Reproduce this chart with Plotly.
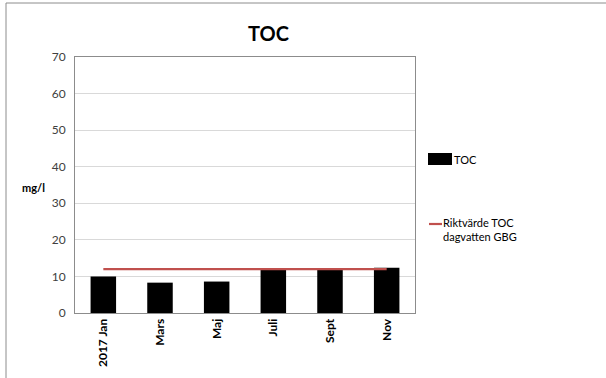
import plotly.graph_objects as go

# Monthly TOC measurements (mg/l) and the guideline value
months = ["2017 Jan", "Mars", "Maj", "Juli", "Sept", "Nov"]
toc_values = [10.0, 8.3, 8.6, 11.8, 11.8, 12.4]
guideline = [12, 12, 12, 12, 12, 12]

y_ticks = [0, 10, 20, 30, 40, 50, 60, 70]

FONT = "Lato, Open Sans, sans-serif"

fig = go.Figure()
fig.add_trace(go.Bar(
    x=months, y=toc_values, name="TOC",
    marker=dict(color="#000000", line=dict(width=0)),
    width=0.45, showlegend=False,
))
fig.add_trace(go.Scatter(
    x=months, y=guideline, name="Riktvärde TOC dagvatten GBG",
    mode="lines", line=dict(color="#c0504d", width=2.2),
    showlegend=False,
))

# plot area geometry in pixels
W, H = 606, 378
L, R, T, B = 75, 191, 57, 65
pw, ph = W - L - R, H - T - B


def px(x):
    return (x - L) / pw


def py(y):
    return (H - B - y) / ph


shapes = [
    # outer chart frame
    dict(type="rect", xref="paper", yref="paper",
         x0=px(6), x1=px(640), y0=py(3), y1=py(420),
         line=dict(color="#8c8c8c", width=1), layer="below"),
    # legend keys
    dict(type="rect", xref="paper", yref="paper",
         x0=px(428), x1=px(452), y0=py(153), y1=py(165),
         fillcolor="#000000", line=dict(width=0)),
    dict(type="line", xref="paper", yref="paper",
         x0=px(429), x1=px(442), y0=py(224), y1=py(224),
         line=dict(color="#c0504d", width=2.2)),
]

annotations = [
    dict(text="<b>TOC</b>", xref="paper", yref="paper",
         x=px(268), y=py(33), xanchor="center", yanchor="middle",
         showarrow=False,
         font=dict(family=FONT, size=20, color="#000000")),
    dict(text="<b>mg/l</b>", xref="paper", yref="paper",
         x=px(33), y=py(187), xanchor="center", yanchor="middle",
         showarrow=False,
         font=dict(family=FONT, size=11, color="#000000")),
    dict(text="TOC", xref="paper", yref="paper",
         x=px(452), y=py(159), xanchor="left", yanchor="middle",
         showarrow=False,
         font=dict(family=FONT, size=11, color="#000000")),
    dict(text="Riktvärde TOC<br>dagvatten GBG", xref="paper", yref="paper",
         x=px(441), y=py(229), xanchor="left", yanchor="middle",
         align="left", showarrow=False,
         font=dict(family=FONT, size=11, color="#000000")),
]

fig.update_layout(
    width=W, height=H,
    margin=dict(l=L, r=R, t=T, b=B),
    paper_bgcolor="#ffffff", plot_bgcolor="#ffffff",
    bargap=0.55,
    shapes=shapes, annotations=annotations,
    font=dict(family=FONT, size=11, color="#404040"),
    xaxis=dict(
        tickangle=-90, showgrid=False, ticks="",
        showline=True, linecolor="#8c8c8c", mirror=True,
        tickfont=dict(family=FONT, size=12, color="#000000"),
        tickprefix="<b>", ticksuffix="</b>",
        range=[-0.5, 5.5],
    ),
    yaxis=dict(
        range=[0, 70], tickvals=y_ticks,
        showgrid=True, gridcolor="#d9d9d9", gridwidth=1,
        showline=True, linecolor="#8c8c8c", mirror=True,
        zeroline=False, ticks="", ticklabelstandoff=6,
        tickfont=dict(family=FONT, size=12, color="#404040"),
    ),
)

fig.write_html("out.html")
